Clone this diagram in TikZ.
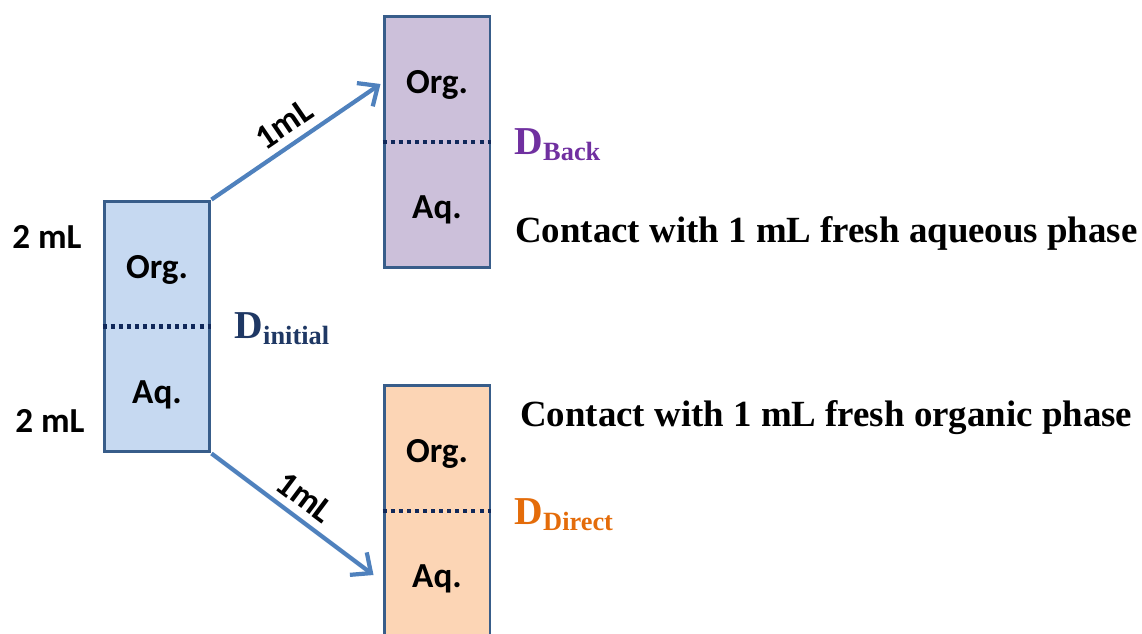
\documentclass[tikz,border=0pt]{standalone}
\usepackage{fontspec}
\setmainfont{Liberation Serif}
\newfontfamily\calfont{Carlito}
\usetikzlibrary{arrows.meta,calc}
\definecolor{boxline}{RGB}{56,93,138}
\definecolor{arrowblue}{RGB}{79,129,189}
\definecolor{navy}{RGB}{31,56,100}
\definecolor{dotnavy}{RGB}{16,40,90}
\definecolor{fillinit}{RGB}{198,217,241}
\definecolor{fillback}{RGB}{204,192,218}
\definecolor{filldirect}{RGB}{252,213,181}
\definecolor{dback}{RGB}{112,48,160}
\definecolor{ddirect}{RGB}{228,108,10}

\begin{document}
\begin{tikzpicture}[x=0.02cm, y=-0.02cm,
    tube/.style={draw=boxline, line width=1.7pt, minimum width=2.12cm,
      minimum height=5.02cm, inner sep=0pt},
    phase/.style={font=\calfont\bfseries\fontsize{20}{24}\selectfont},
    dlab/.style={anchor=west, font=\bfseries\fontsize{22.5}{26}\selectfont},
    contact/.style={anchor=west, font=\bfseries\fontsize{21}{24}\selectfont},
    interface/.style={dotnavy, line width=2.3pt, dash pattern=on 2.3pt off 2.3pt},
    >={Straight Barb[length=9pt,width=16pt]}]
  \useasboundingbox (0,0) rectangle (1142,633);
  \clip (0,0) rectangle (1142,633);
  % the three tubes
  \node[tube, fill=fillinit] (init) at (157,326.5) {};
  \node[tube, fill=fillback] (back) at (437,142) {};
  \node[tube, fill=filldirect] (direct) at (437,511) {};
  \foreach \t in {init,back,direct} {
    \draw[interface] (\t.west) -- (\t.east);
    \node[phase] (\t org) at ($(\t.center)+(0,-57)$) {Org.};
    \node[phase] (\t aq) at ($(\t.center)+(0,68)$) {Aq.};
  }
  % volumes
  \node[phase] (vorg) at (47,237) {2 mL};
  \node[phase] (vaq) at (50,421) {2 mL};
  % distribution ratios
  \node[dlab, text=navy] (dinit) at ($(init.east)+(17,2)$)
    {D\textsubscript{\fontsize{15}{18}\selectfont initial}};
  \node[dlab, text=dback] (dbk) at ($(back.east)+(17,3)$)
    {D\textsubscript{\fontsize{15}{18}\selectfont Back}};
  \node[dlab, text=ddirect] (ddir) at ($(direct.east)+(17,4)$)
    {D\textsubscript{\fontsize{15}{18}\selectfont Direct}};
  % contact steps
  \node[contact] (caq) at (509,233) {Contact with 1 mL fresh aqueous phase};
  \node[contact] (corg) at (514,418) {Contact with 1 mL fresh organic phase};
  % transfers
  \draw[->, arrowblue, line width=2.4pt] (init.north east) --
    ($(back.west)+(-2,-58)$) node[midway, sloped, above=1pt, phase, text=black]
    {1mL};
  \draw[->, arrowblue, line width=2.4pt] (init.south east) --
    ($(direct.west)+(-9,64)$) node[midway, sloped, above=1pt, phase, text=black]
    {1mL};
\end{tikzpicture}
\end{document}
